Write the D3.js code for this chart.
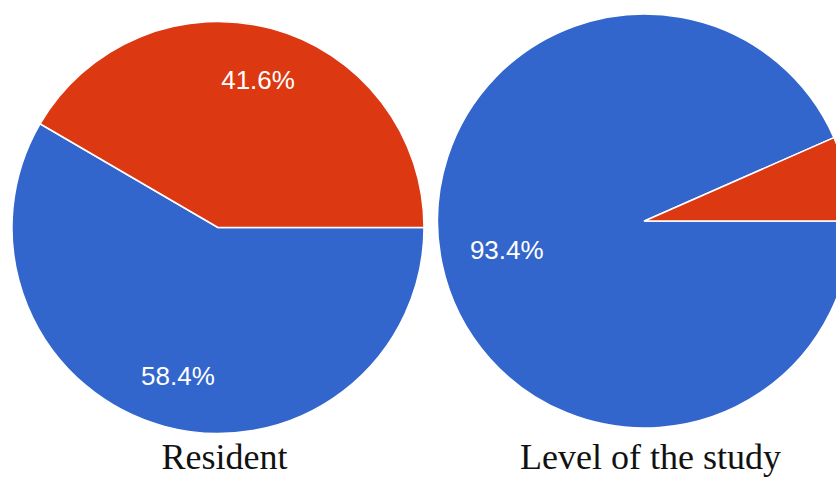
<!DOCTYPE html>
<html>
<head>
<meta charset="utf-8">
<script src="https://cdn.jsdelivr.net/npm/d3@7"></script>
<style>
  html, body { margin: 0; padding: 0; background: #fff; overflow: hidden; }
  svg { display: block; }
</style>
</head>
<body>
<svg id="chart" width="836" height="478"></svg>
<script>
// ---- data ----
const pieTitles = ["Resident", "Level of the study"];
const categories = ["Category 1", "Category 2"];
const bluePercent = [58.4, 93.4];
const redPercent = [41.6, 6.6];
const colors = ["#3366cc", "#dc3912"];

// ---- layout (styles, not data) ----
const layouts = [
  { cx: 218, cy: 227.5, r: 206, labelK: 0.745, titleX: 224.5 },
  { cx: 644.5, cy: 221, r: 207, labelK: 0.68, titleX: 650.5 }
];

const svg = d3.select("#chart");
const color = d3.scaleOrdinal().domain(categories).range(colors);
const pie = d3.pie().sort(null).value(d => d.value)
  .startAngle(Math.PI / 2).endAngle(Math.PI / 2 + 2 * Math.PI);

pieTitles.forEach((title, i) => {
  const L = layouts[i];
  const data = categories.map((c, j) => ({ cat: c, value: j === 0 ? bluePercent[i] : redPercent[i] }));
  const arcs = pie(data);
  const arc = d3.arc().innerRadius(0).outerRadius(L.r);
  const labelArc = d3.arc().innerRadius(L.r * L.labelK).outerRadius(L.r * L.labelK);
  const g = svg.append("g").attr("transform", `translate(${L.cx},${L.cy})`);
  g.selectAll("path").data(arcs).join("path")
    .attr("d", arc)
    .attr("fill", d => color(d.data.cat))
    .attr("stroke", "#ffffff")
    .attr("stroke-width", 1.5)
    .attr("stroke-linejoin", "round");
  g.selectAll("text.lbl").data(arcs.filter(d => d.data.value >= 10)).join("text")
    .attr("class", "lbl")
    .attr("transform", d => `translate(${labelArc.centroid(d)})`)
    .attr("text-anchor", "middle")
    .attr("dy", "0.36em")
    .attr("fill", "#ffffff")
    .style("font-family", "Arial, 'Liberation Sans', sans-serif")
    .style("font-size", "26px")
    .text(d => d.data.value.toFixed(1) + "%");
  svg.append("text")
    .attr("x", L.titleX)
    .attr("y", 469)
    .attr("text-anchor", "middle")
    .attr("fill", "#111")
    .style("font-family", "'Times New Roman', 'Liberation Serif', serif")
    .style("font-size", "36px")
    .text(title);
});
</script>
</body>
</html>
